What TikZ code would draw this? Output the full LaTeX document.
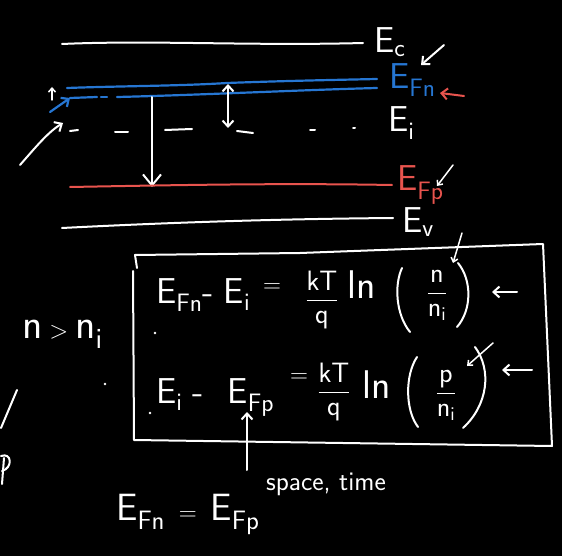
\documentclass[tikz,border=0pt]{standalone}
\usepackage{fontspec}
\usetikzlibrary{arrows.meta}
\definecolor{bl}{RGB}{38,118,210}
\definecolor{rd}{RGB}{232,84,78}
\begin{document}
\begin{tikzpicture}[x=1pt,y=-1pt,line cap=round,line join=round,
  wl/.style={white,line width=2pt},
  bll/.style={bl,line width=2.2pt},
  rdl/.style={rd,line width=2pt},
  lbl/.style={text=white,font=\sffamily\fontsize{36}{40}\selectfont,inner sep=0pt},
  eqf/.style={text=white,font=\sffamily\fontsize{28}{32}\selectfont,inner sep=0pt},
  tip/.style={-{Straight Barb[length=6pt,width=11pt]}},
  dtip/.style={{Straight Barb[length=6pt,width=11pt]}-{Straight Barb[length=6pt,width=11pt]}},
  bigtip/.style={-{Straight Barb[length=11pt,width=18pt]}},
  smalltip/.style={-{Straight Barb[length=4pt,width=7pt]}}]
\fill[black] (0,0) rectangle (562,556);
\useasboundingbox (0,0) rectangle (562,556);

% ---------- band diagram ----------
% Ec
\node[lbl,anchor=west] (Ec) at (374,42) {$\mathsf{E_c}$};
\coordinate (ecL) at (62,44); \coordinate (ecR) at (363,43);
\draw[wl] (ecL) .. controls (150,40) and (250,46) .. (ecR);
\coordinate (a1s) at (444,45); \coordinate (a1e) at (421,65);
\draw[wl,tip] (a1s) -- (a1e);

% EFn
\node[lbl,text=bl,anchor=west] (Efn) at (389,80) {$\mathsf{E_{Fn}}$};
\coordinate (fn1L) at (67,88); \coordinate (fn1M) at (227,83); \coordinate (fn1R) at (377,79);
\draw[bll] (fn1L) .. controls (120,86) and (180,86) .. (fn1M) .. controls (280,81) and (330,80) .. (fn1R);
\coordinate (fn2a) at (70,98); \coordinate (fn2b) at (97,97);
\coordinate (fn2c) at (101,97); \coordinate (fn2d) at (107,97);
\coordinate (fn2L) at (117,97); \coordinate (fn2R) at (377,88);
\draw[bll] (fn2a) -- (fn2b); \draw[bll] (fn2c) -- (fn2d);
\draw[bll] (fn2L) .. controls (200,95) and (300,90) .. (fn2R);
\coordinate (ba0) at (50,112);
\draw[bll,tip] (ba0) -- (fn2a);
\coordinate (ua0) at (52,100); \coordinate (ua1) at (52,87);
\draw[wl,line width=1.5pt,smalltip] (ua0) -- (ua1);
\coordinate (ra0) at (464,96); \coordinate (ra1) at (440,93);
\draw[rdl,tip] (ra0) -- (ra1);

% Ei
\node[lbl,anchor=west] (Ei) at (388,123) {$\mathsf{E_i}$};
\foreach \a/\b/\c/\d in {70/131/78/130, 115/132/128/132, 165/130/192/129, 237/131/253/133, 310/130/315/130, 353/128/355/128}
  \draw[wl] (\a,\b) -- (\c,\d);
\coordinate (wa0) at (20,165); \coordinate (wa1) at (63,123);
\draw[wl,tip] (wa0) .. controls (35,148) and (48,132) .. (wa1);

% arrows between levels
\coordinate (va0) at (152,97); \coordinate (va1) at (152,187);
\draw[wl,bigtip] (va0) -- (va1);
\coordinate (da0) at (228,128); \coordinate (da1) at (228,84);
\draw[wl,dtip] (da0) -- (da1);

% EFp
\node[lbl,text=rd,anchor=west] (Efp) at (397,185) {$\mathsf{E_{Fp}}$};
\coordinate (fpL) at (70,187); \coordinate (fpR) at (392,185);
\draw[rdl] (fpL) .. controls (180,185) and (280,183) .. (fpR);
\coordinate (pa0) at (453,165); \coordinate (pa1) at (437,186);
\draw[wl,line width=1.5pt,smalltip] (pa0) -- (pa1);

% Ev
\node[lbl,anchor=west] (Ev) at (402,222) {$\mathsf{E_v}$};
\coordinate (evL) at (62,228); \coordinate (evR) at (393,218);
\draw[wl] (evL) .. controls (180,222) and (280,219) .. (evR);

% ---------- box ----------
\coordinate (bTL) at (135,255); \coordinate (bTR) at (543,244);
\coordinate (bBR) at (552,446); \coordinate (bBL) at (134,440);
\coordinate (bL1) at (137,268); \coordinate (bL2) at (133,271);
\draw[wl] (bL1) -- (bTL) -- (300,253) -- (bTR) -- (bBR) -- (bBL) -- (bL2);

% arrow to n
\coordinate (na0) at (462,233); \coordinate (na1) at (453,263);
\draw[wl,line width=1.5pt,smalltip] (na0) -- (na1);

% ---------- equation 1 ----------
\node[lbl,anchor=base west] (q1a) at (156,303) {$\mathsf{E_{Fn}}$-\hspace{10pt}$\mathsf{E_i}$};
\node[lbl] (q1eq) at (272,288) {$=$};
\node[eqf] (q1f) at (322,300) {$\displaystyle\frac{\mathsf{kT}}{\mathsf{q}}$};
\node[lbl,font=\sffamily\fontsize{40}{44}\selectfont] (q1ln) at (362,285) {ln};
\draw[wl] (402,268) .. controls (394,285) and (396,315) .. (410,332);
\node[eqf] (q1n) at (437,295) {$\displaystyle\frac{\mathsf{n}}{\mathsf{n_i}}$};
\draw[wl] (458,263) .. controls (472,280) and (472,310) .. (457,327);
\coordinate (q1r0) at (517,292); \coordinate (q1r1) at (492,292);
\draw[wl,tip] (q1r0) -- (q1r1);

% ---------- equation 2 ----------
\node[lbl,anchor=base west] (q2a) at (156,403) {$\mathsf{E_i}$\hspace{10pt}-\hspace{24pt}$\mathsf{E_{Fp}}$};
\node[lbl,font=\sffamily\fontsize{24}{28}\selectfont] (q2eq) at (299,378) {$=$};
\node[eqf] (q2f) at (334,392) {$\displaystyle\frac{\mathsf{kT}}{\mathsf{q}}$};
\node[lbl,font=\sffamily\fontsize{40}{44}\selectfont] (q2ln) at (377,385) {ln};
\draw[wl] (417,357) .. controls (405,375) and (405,410) .. (418,427);
\node[eqf] (q2p) at (446,395) {$\displaystyle\frac{\mathsf{p}}{\mathsf{n_i}}$};
\draw[wl] (475,347) .. controls (492,370) and (488,405) .. (463,428);
\coordinate (q2c0) at (493,343); \coordinate (q2c1) at (467,366);
\draw[wl,line width=1.5pt,smalltip] (q2c0) -- (q2c1);
\coordinate (q2r0) at (532,370); \coordinate (q2r1) at (502,370);
\draw[wl,tip] (q2r0) -- (q2r1);

% ---------- below box ----------
\coordinate (ub0) at (247,470); \coordinate (ub1) at (247,412);
\draw[wl,tip] (ub0) -- (ub1);
\node[lbl,font=\sffamily\fontsize{27}{30}\selectfont] (st) at (326,484) {space, time};
\node[lbl,anchor=base west,font=\sffamily\fontsize{38}{42}\selectfont] (eqb) at (116,520) {$\mathsf{E_{Fn}}\;=\;\mathsf{E_{Fp}}$};

% ---------- left side ----------
\node[lbl,font=\sffamily\fontsize{42}{46}\selectfont,anchor=base west] (nn) at (22,338) {$\mathsf{n > n_i}$};
\fill[white] (155,333) circle (1.3);
\fill[white] (105,384) circle (1.3);
\fill[white] (150,413) circle (1.3);
\coordinate (sl0) at (17,390); \coordinate (sl1) at (1,428);
\draw[wl] (sl0) -- (sl1);
\draw[wl] (1,456) .. controls (12,452) and (13,468) .. (2,471);
\draw[wl] (4,458) -- (2,484);
\end{tikzpicture}
\end{document}
